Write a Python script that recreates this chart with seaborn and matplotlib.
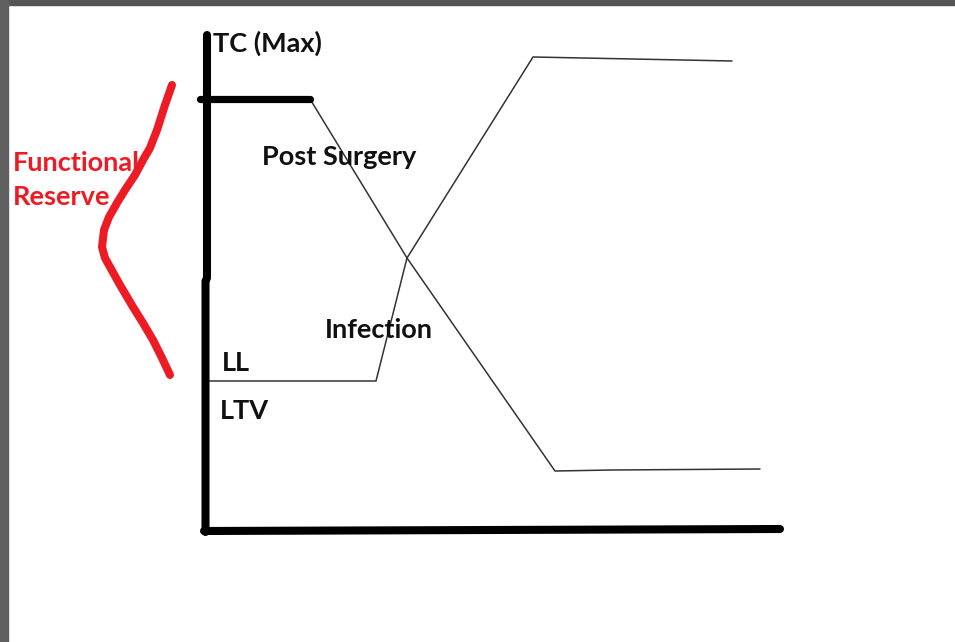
import matplotlib
matplotlib.use("Agg")
import matplotlib.pyplot as plt
import seaborn as sns
import pandas as pd

# ---------------------------------------------------
# Sketch data (canvas units: x to the right, y downwards)
# ---------------------------------------------------

axis_y_x = [207, 207, 205.5, 205.5]
axis_y_y = [35, 278, 281, 532]

axis_x_x = [204, 490, 780]
axis_x_y = [531, 530, 529]

tc_max_x = [200, 310]
tc_max_y = [99, 99]

post_surgery_x = [310, 407, 555, 612, 760]
post_surgery_y = [99, 258, 471, 470, 469]

infection_x = [207, 376, 407, 533, 732]
infection_y = [381, 381, 258, 57, 61]

reserve_x = [172, 165, 157, 150, 143, 135, 125, 117, 109, 104, 102,
             105, 110, 120, 133, 143, 153, 162, 170]
reserve_y = [85, 105, 130, 148, 160, 175, 190, 203, 217, 230, 247,
             258, 267, 285, 307, 323, 340, 358, 375]

labels = ["TC (Max)", "Post Surgery", "Infection", "LL", "LTV"]
label_x = [213, 262, 325, 222, 220]
label_y = [43, 157, 330, 363, 411]

reserve_labels = ["Functional", "Reserve"]
reserve_label_x = [13, 13]
reserve_label_y = [163, 197]


# ---------------------------------------------------
# Figure
# ---------------------------------------------------

sns.set_theme(style="white")
plt.rcParams["font.family"] = ["Lato", "DejaVu Sans"]

fig = plt.figure(figsize=(9.55, 6.42), dpi=100)
ax = fig.add_axes([0, 0, 1, 1])
ax.set_xlim(0, 955)
ax.set_ylim(642, 0)
ax.axis("off")

# window frame of the screenshot
ax.axhspan(0, 5, color="#555555", zorder=0)
ax.axvspan(0, 8, color="#606060", zorder=0)


def draw(xs, ys, color, width, z=2):
    df = pd.DataFrame({"x": xs, "y": ys})
    sns.lineplot(data=df, x="x", y="y", ax=ax, sort=False, estimator=None,
                 color=color, linewidth=width, zorder=z,
                 solid_capstyle="round", solid_joinstyle="round")


# thin curves
draw(post_surgery_x, post_surgery_y, "#333333", 1.1)
draw(infection_x, infection_y, "#333333", 1.1)

# thick axes and max level
draw(axis_y_x, axis_y_y, "black", 5.8, 3)
draw(axis_x_x, axis_x_y, "black", 5.8, 3)
draw(tc_max_x, tc_max_y, "black", 5.2, 3)

# red bracket
draw(reserve_x, reserve_y, "#ED1C24", 5.8, 3)

ax.set_xlabel("")
ax.set_ylabel("")

for text, x, y in zip(labels, label_x, label_y):
    ax.text(x, y, text, ha="left", va="center", fontsize=19.5,
            fontweight="bold", color="#111111", zorder=4)

for text, x, y in zip(reserve_labels, reserve_label_x, reserve_label_y):
    ax.text(x, y, text, ha="left", va="center", fontsize=19.5,
            fontweight="bold", color="#ED1C24", zorder=4)

fig.savefig("out.png", dpi=100)
plt.close(fig)
